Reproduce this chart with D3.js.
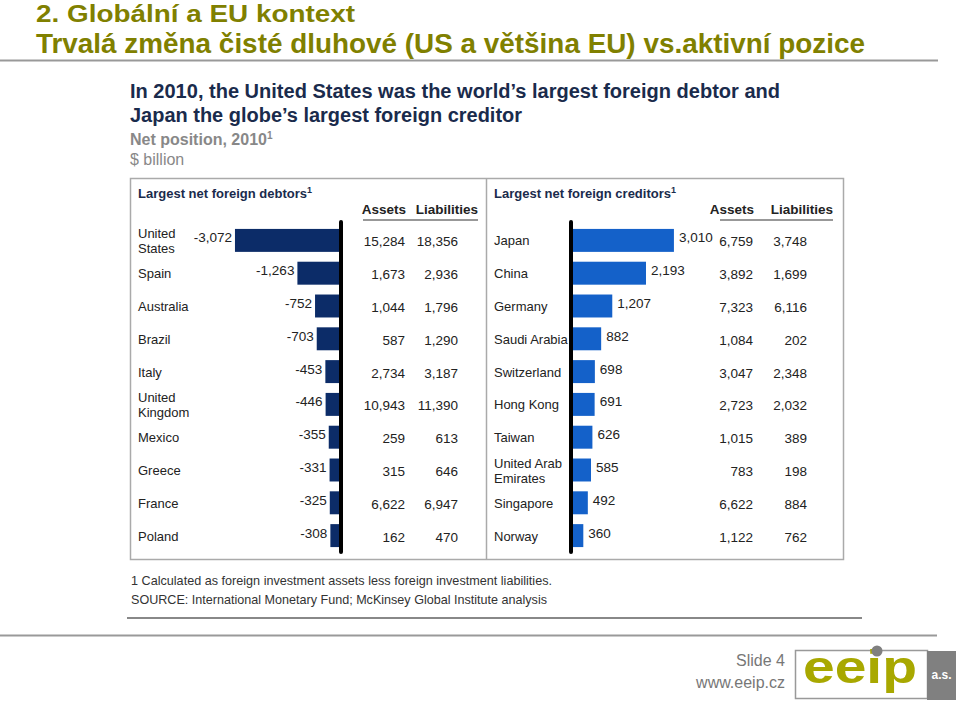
<!DOCTYPE html>
<html><head><meta charset="utf-8">
<script src="https://cdn.jsdelivr.net/npm/d3@7"></script>
<style>body{margin:0;background:#fff;}svg{display:block;}</style>
</head><body>
<script>
const debtors = ["United\nStates","Spain","Australia","Brazil","Italy","United\nKingdom","Mexico","Greece","France","Poland"];
const debtorNet = [-3072,-1263,-752,-703,-453,-446,-355,-331,-325,-308];
const debtorAssets = [15284,1673,1044,587,2734,10943,259,315,6622,162];
const debtorLiab = [18356,2936,1796,1290,3187,11390,613,646,6947,470];
const creditors = ["Japan","China","Germany","Saudi Arabia","Switzerland","Hong Kong","Taiwan","United Arab\nEmirates","Singapore","Norway"];
const creditorNet = [3010,2193,1207,882,698,691,626,585,492,360];
const creditorAssets = [6759,3892,7323,1084,3047,2723,1015,783,6622,1122];
const creditorLiab = [3748,1699,6116,202,2348,2032,389,198,884,762];

const W=960,H=701;
const svg=d3.select("body").append("svg").attr("width",W).attr("height",H);
const fmt=v=>d3.format(",")(v).replace("−","-");
const sans="'Liberation Sans',Arial,sans-serif";
const olive="#808000";

// slide titles
svg.append("text").attr("x",36).attr("y",22).attr("font-family",sans).attr("font-weight","bold")
  .attr("font-size",24.5).attr("fill",olive).attr("textLength",319).attr("lengthAdjust","spacingAndGlyphs")
  .text("2. Globální a EU kontext");
svg.append("text").attr("x",36).attr("y",53).attr("font-family",sans).attr("font-weight","bold")
  .attr("font-size",27).attr("fill",olive).attr("textLength",829).attr("lengthAdjust","spacingAndGlyphs")
  .text("Trvalá změna čisté dluhové (US a většina EU) vs.aktivní pozice");
svg.append("line").attr("x1",0).attr("x2",938).attr("y1",60.5).attr("y2",60.5).attr("stroke","#999").attr("stroke-width",2);

// chart heading
const navy="#1a2b4c";
svg.append("text").attr("x",130).attr("y",98).attr("font-family",sans).attr("font-weight","bold").attr("font-size",19.5).attr("fill",navy)
  .attr("textLength",650).attr("lengthAdjust","spacingAndGlyphs")
  .text("In 2010, the United States was the world’s largest foreign debtor and");
svg.append("text").attr("x",130).attr("y",122).attr("font-family",sans).attr("font-weight","bold").attr("font-size",19.5).attr("fill",navy)
  .attr("textLength",392).attr("lengthAdjust","spacingAndGlyphs")
  .text("Japan the globe’s largest foreign creditor");
const np=svg.append("text").attr("x",130).attr("y",145).attr("font-family",sans).attr("font-weight","bold").attr("font-size",16).attr("fill","#888");
np.append("tspan").text("Net position, 2010");
np.append("tspan").attr("font-size",10).attr("dy",-6).text("1");
svg.append("text").attr("x",130).attr("y",165).attr("font-family",sans).attr("font-size",16).attr("fill","#888").text("$ billion");

// box
svg.append("rect").attr("x",130.5).attr("y",178.5).attr("width",713).attr("height",381).attr("fill","none").attr("stroke","#aaa").attr("stroke-width",1.5);
svg.append("line").attr("x1",486.5).attr("x2",486.5).attr("y1",179).attr("y2",559).attr("stroke","#aaa").attr("stroke-width",1.5);

const idx=d3.range(10);
const y=d3.scaleBand().domain(idx).range([224,552]).paddingInner(0.3).paddingOuter(0.15);
const labelColor="#222";

function panel(cfg){
  const g=svg.append("g");
  const t=g.append("text").attr("x",cfg.titleX).attr("y",198).attr("font-family",sans).attr("font-weight","bold").attr("font-size",13).attr("fill",navy);
  t.append("tspan").text(cfg.title);
  t.append("tspan").attr("font-size",9).attr("dy",-5).text("1");
  g.append("text").attr("x",cfg.assetsX).attr("y",214).attr("text-anchor","end").attr("font-family",sans).attr("font-weight","bold").attr("font-size",13.5).attr("fill",labelColor).text("Assets");
  g.append("text").attr("x",cfg.liabX).attr("y",214).attr("text-anchor","end").attr("font-family",sans).attr("font-weight","bold").attr("font-size",13.5).attr("fill",labelColor).text("Liabilities");
  g.append("line").attr("x1",cfg.ulX1).attr("x2",cfg.ulX2).attr("y1",220).attr("y2",220).attr("stroke","#333").attr("stroke-width",1.2);

  g.selectAll("rect.bar").data(idx).join("rect").attr("class","bar")
    .attr("x",i=>Math.min(cfg.x(cfg.net[i]),cfg.x(0)))
    .attr("width",i=>Math.abs(cfg.x(cfg.net[i])-cfg.x(0)))
    .attr("y",i=>y(i)).attr("height",y.bandwidth()).attr("fill",cfg.color);
  g.append("line").attr("x1",cfg.x(0)).attr("x2",cfg.x(0)).attr("y1",222).attr("y2",552).attr("stroke","#000").attr("stroke-width",4).attr("stroke-linecap","round");

  g.selectAll("text.val").data(idx).join("text").attr("class","val")
    .attr("x",i=>cfg.x(cfg.net[i])+(cfg.net[i]<0?-3:5))
    .attr("y",i=>y(i)+y.bandwidth()/2+2)
    .attr("text-anchor",i=>cfg.net[i]<0?"end":"start")
    .attr("font-family",sans).attr("font-size",13.5).attr("fill",labelColor)
    .text(i=>fmt(cfg.net[i]));
  g.selectAll("text.cat").data(idx).join("text").attr("class","cat")
    .attr("x",cfg.catX).attr("font-family",sans).attr("font-size",13).attr("fill",labelColor)
    .each(function(i){
      const lines=cfg.cats[i].split("\n");
      const cy=y(i)+y.bandwidth()/2;
      const sel=d3.select(this);
      lines.forEach((l,k)=>{
        sel.append("tspan").attr("x",cfg.catX).attr("y",cy+5+(k-(lines.length-1)/2)*15).text(l);
      });
    });
  g.selectAll("text.as").data(idx).join("text").attr("class","as")
    .attr("x",cfg.assetsX-1).attr("y",i=>y(i)+y.bandwidth()/2+6).attr("text-anchor","end")
    .attr("font-family",sans).attr("font-size",13.5).attr("fill",labelColor).text(i=>fmt(cfg.assets[i]));
  g.selectAll("text.li").data(idx).join("text").attr("class","li")
    .attr("x",cfg.liabValX).attr("y",i=>y(i)+y.bandwidth()/2+6).attr("text-anchor","end")
    .attr("font-family",sans).attr("font-size",13.5).attr("fill",labelColor).text(i=>fmt(cfg.liab[i]));
}

panel({title:"Largest net foreign debtors",titleX:138,cats:debtors,net:debtorNet,assets:debtorAssets,liab:debtorLiab,
  x:d3.scaleLinear().domain([-3100,0]).range([234,341]),color:"#0c2c68",catX:138,assetsX:406,liabX:478,liabValX:458,ulX1:363,ulX2:478});
panel({title:"Largest net foreign creditors",titleX:494,cats:creditors,net:creditorNet,assets:creditorAssets,liab:creditorLiab,
  x:d3.scaleLinear().domain([0,3100]).range([571,677]),color:"#1461c9",catX:494,assetsX:754,liabX:833,liabValX:807,ulX1:720,ulX2:833});

// footnotes
svg.append("text").attr("x",131).attr("y",585).attr("font-family",sans).attr("font-size",13).attr("fill","#333")
  .attr("textLength",421).attr("lengthAdjust","spacingAndGlyphs")
  .text("1  Calculated as foreign investment assets less foreign investment liabilities.");
svg.append("text").attr("x",131).attr("y",604).attr("font-family",sans).attr("font-size",13).attr("fill","#333")
  .attr("textLength",416).attr("lengthAdjust","spacingAndGlyphs")
  .text("SOURCE: International Monetary Fund; McKinsey Global Institute analysis");
svg.append("line").attr("x1",127).attr("x2",862).attr("y1",618).attr("y2",618).attr("stroke","#888").attr("stroke-width",2);

// slide footer
svg.append("line").attr("x1",0).attr("x2",937).attr("y1",635.5).attr("y2",635.5).attr("stroke","#999").attr("stroke-width",2);
svg.append("text").attr("x",785).attr("y",666).attr("text-anchor","end").attr("font-family",sans).attr("font-size",16).attr("fill","#777").text("Slide 4");
svg.append("text").attr("x",785).attr("y",688).attr("text-anchor","end").attr("font-family",sans).attr("font-size",16).attr("fill","#777").text("www.eeip.cz");
svg.append("rect").attr("x",795.5).attr("y",650.5).attr("width",132).attr("height",48).attr("fill","#fff").attr("stroke","#999").attr("stroke-width",1.5);
svg.append("rect").attr("x",927).attr("y",651).attr("width",29).attr("height",49).attr("fill","#808080");
svg.append("text").attr("x",941.5).attr("y",679).attr("text-anchor","middle").attr("font-family",sans).attr("font-weight","bold").attr("font-size",12).attr("fill","#fff").text("a.s.");
svg.append("text").attr("x",803).attr("y",683).attr("font-family",sans).attr("font-weight","bold").attr("font-size",46).attr("fill","#a8a800")
  .attr("textLength",114).attr("lengthAdjust","spacingAndGlyphs").text("eeip");
svg.append("circle").attr("cx",877).attr("cy",651).attr("r",5.5).attr("fill","#808080");
</script>
</body></html>
